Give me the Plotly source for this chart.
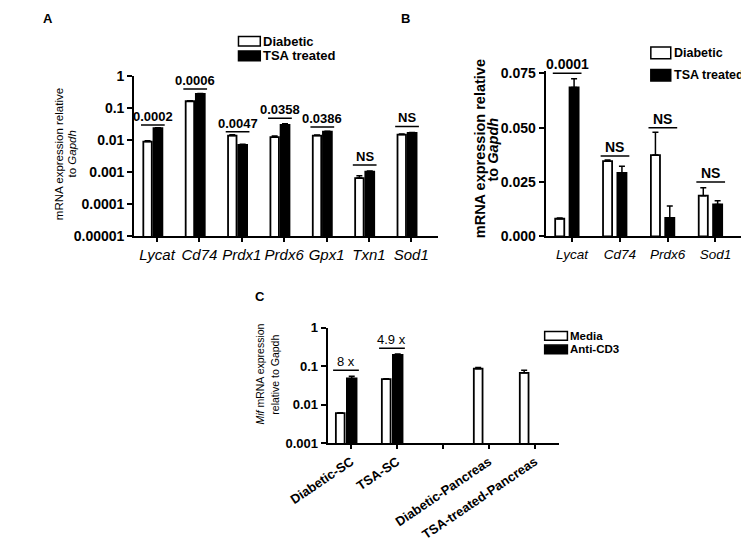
import numpy as np
import plotly.graph_objects as go

# ---------------- data ----------------
genes_a = ["Lycat", "Cd74", "Prdx1", "Prdx6", "Gpx1", "Txn1", "Sod1"]
diab_a = [0.0091, 0.165, 0.014, 0.0125, 0.014, 0.00066, 0.015]
diab_a_err = [0.0006, 0.006, 0.0008, 0.0012, 0.0006, 0.00012, 0.0006]
tsa_a = [0.024, 0.28, 0.0072, 0.030, 0.0186, 0.00105, 0.017]
tsa_a_err = [0.0008, 0.01, 0.0003, 0.003, 0.0006, 0.00004, 0.0006]
sig_a_text = ["0.0002", "0.0006", "0.0047", "0.0358", "0.0386", "NS", "NS"]
sig_a_y = [0.030, 0.40, 0.0186, 0.049, 0.026, 0.0017, 0.027]

genes_b = ["Lycat", "Cd74", "Prdx6", "Sod1"]
diab_b = [0.0081, 0.0346, 0.0374, 0.0187]
diab_b_err = [0.0003, 0.0005, 0.0105, 0.0037]
tsa_b = [0.0685, 0.0292, 0.0085, 0.0147]
tsa_b_err = [0.0040, 0.0031, 0.0055, 0.0017]
sig_b_text = ["0.0001", "NS", "NS", "NS"]
sig_b_y = [0.075, 0.037, 0.050, 0.025]

groups_c = ["Diabetic-SC", "TSA-SC", "", "Diabetic-Pancreas", "TSA-treated-Pancreas"]
media_c = [0.0060, 0.046, None, 0.086, 0.067]
media_c_err = [0.0002, 0.001, None, 0.006, 0.011]
anti_c = [0.048, 0.196, None, None, None]
anti_c_err = [0.007, 0.010, None, None, None]
sig_c_text = ["8 x", "4.9 x"]
sig_c_y = [0.078, 0.29]

ticks_a = [1e-5, 1e-4, 1e-3, 1e-2, 1e-1, 1]
ticks_a_text = ["0.00001", "0.0001", "0.001", "0.01", "0.1", "1"]
ticks_b = [0, 0.025, 0.05, 0.075]
ticks_b_text = ["0.000", "0.025", "0.050", "0.075"]
ticks_c = [1e-3, 1e-2, 1e-1, 1]
ticks_c_text = ["0.001", "0.01", "0.1", "1"]

# ---------------- helpers ----------------
W, H = 749, 549
PAGE = 8  # default body margin of the html page
FONT = "Liberation Sans, Arial, sans-serif"


def px(x):
    return (x - PAGE) / W


def py(y):
    return 1 - (y - PAGE) / H


fig = go.Figure()


def add_bars(xa, ya, xs, vals, errs, fill, offset, width):
    fig.add_trace(go.Bar(
        x=xs, y=vals, xaxis=xa, yaxis=ya, offset=offset, width=width,
        marker=dict(color=fill, line=dict(color="black", width=1.8)),
        error_y=dict(type="data", symmetric=False, array=errs,
                     arrayminus=[0] * len(vals), color="black",
                     thickness=1.5, width=3),
        showlegend=False, hoverinfo="skip"))


xa_idx = list(range(len(genes_a)))
xb_idx = list(range(len(genes_b)))
xc_idx = list(range(len(groups_c)))

add_bars("x", "y", xa_idx, diab_a, diab_a_err, "white", -0.225, 0.2)
add_bars("x", "y", xa_idx, tsa_a, tsa_a_err, "black", 0.015, 0.21)
add_bars("x2", "y2", xb_idx, diab_b, diab_b_err, "white", -0.25, 0.19)
add_bars("x2", "y2", xb_idx, tsa_b, tsa_b_err, "black", 0.05, 0.19)
add_bars("x3", "y3", xc_idx, media_c, media_c_err, "white", -0.22, 0.19)
add_bars("x3", "y3", xc_idx, anti_c, anti_c_err, "black", 0.02, 0.21)

shapes = []
annos = []


def sig(xref, yref, i, h, text, half, log, size, bold=True):
    shapes.append(dict(type="line", xref=xref, yref=yref, x0=i - half, x1=i + half,
                       y0=h, y1=h, line=dict(color="black", width=1.5)))
    annos.append(dict(xref=xref, yref=yref, x=i, y=np.log10(h) if log else h,
                      text=f"<b>{text}</b>" if bold else text, showarrow=False,
                      yanchor="bottom", yshift=-1,
                      font=dict(family=FONT, size=size, color="black")))


for i, (t, h) in enumerate(zip(sig_a_text, sig_a_y)):
    sig("x", "y", i, h, t, 0.28, True, 13)
for i, (t, h) in enumerate(zip(sig_b_text, sig_b_y)):
    sig("x2", "y2", i, h, t, 0.3, False, 14)
for i, (t, h) in enumerate(zip(sig_c_text, sig_c_y)):
    sig("x3", "y3", i, h, t, 0.28, True, 13, bold=False)


def legend(x0, y0, w, h, gap, labels, size):
    for k, (lab, fill) in enumerate(zip(labels, ["white", "black"])):
        top = y0 + k * gap
        shapes.append(dict(type="rect", xref="paper", yref="paper",
                           x0=px(x0), x1=px(x0 + w), y0=py(top + h), y1=py(top),
                           fillcolor=fill, line=dict(color="black", width=1.5)))
        annos.append(dict(xref="paper", yref="paper", x=px(x0 + w + 1),
                          y=py(top + h / 2), text=f"<b>{lab}</b>", showarrow=False,
                          xanchor="left", yanchor="middle",
                          font=dict(family=FONT, size=size, color="black")))


legend(210, 29, 23, 10, 15, ["Diabetic", "TSA treated"], 13)
legend(645, 40, 21, 12, 23, ["Diabetic", "TSA treated"], 12.5)
legend(533, 333, 24, 9, 14, ["Media", "Anti-CD3"], 11.5)

# panel letters
for lab, x, y in [("A", 9, 11), ("B", 386, 11), ("C", 233, 297)]:
    annos.append(dict(xref="paper", yref="paper", x=px(x), y=py(y), text=f"<b>{lab}</b>",
                      showarrow=False, xanchor="center", yanchor="middle",
                      font=dict(family=FONT, size=13, color="black")))


def ytitle(x, y, text, size):
    annos.append(dict(xref="paper", yref="paper", x=px(x), y=py(y), text=text,
                      textangle=-90, showarrow=False, xanchor="center",
                      yanchor="middle",
                      font=dict(family=FONT, size=size, color="black")))


ytitle(21, 150, "mRNA expression relative", 11.5)
ytitle(34, 150, "to <i>Gapdh</i>", 11.5)
ytitle(465, 145, "<b>mRNA expression relative</b>", 14.5)
ytitle(479, 145, "<b>to <i>Gapdh</i></b>", 14.5)
ytitle(233, 377, "<i>Mif</i> mRNA expression", 10.5)
ytitle(249, 377, "relative to Gapdh", 10.5)

axis_common = dict(showline=True, linecolor="black", linewidth=2, ticks="outside",
                   tickcolor="black", tickwidth=1.8, showgrid=False, zeroline=False,
                   mirror=False)

fig.update_layout(
    width=W, height=H, autosize=False, margin=dict(l=0, r=0, t=0, b=0),
    paper_bgcolor="white", plot_bgcolor="white", barmode="overlay",
    font=dict(family=FONT, color="black"),
    shapes=shapes, annotations=annos, showlegend=False,
    xaxis=dict(domain=[px(100), px(420)], anchor="y", range=[-0.44, 6.72],
               tickmode="array", tickvals=[i + 0.1 for i in xa_idx],
               ticktext=[f"<i>{g}</i>" for g in genes_a], ticklen=4,
               tickfont=dict(size=15, family=FONT), **axis_common),
    yaxis=dict(domain=[py(235), py(70)], anchor="x", type="log", range=[-5, 0],
               tickmode="array", tickvals=ticks_a,
               ticktext=[f"<b>{t}</b>" for t in ticks_a_text], ticklen=5,
               tickfont=dict(size=14, family=FONT), **axis_common),
    xaxis2=dict(domain=[px(534), px(745)], anchor="y2", range=[-0.45, 3.73],
                tickmode="array", tickvals=[i + 0.1 for i in xb_idx],
                ticktext=[f"<i>{g}</i>" for g in genes_b], ticklen=4,
                tickfont=dict(size=13.5, family=FONT), **axis_common),
    yaxis2=dict(domain=[py(235), py(65)], anchor="x2", range=[0, 0.0759],
                tickmode="array", tickvals=ticks_b,
                ticktext=[f"<b>{t}</b>" for t in ticks_b_text], ticklen=5,
                tickfont=dict(size=14, family=FONT), **axis_common),
    xaxis3=dict(domain=[px(304), px(548)], anchor="y3", range=[-0.4, 4.63],
                tickmode="array", tickvals=[i + 0.11 for i in xc_idx],
                ticktext=[f"<b>{g}</b>" if g else "" for g in groups_c], ticklen=4,
                tickangle=-34, tickfont=dict(size=13, family=FONT), **axis_common),
    yaxis3=dict(domain=[py(448), py(329)], anchor="x3", type="log", range=[-3, 0],
                tickmode="array", tickvals=ticks_c,
                ticktext=[f"<b>{t}</b>" for t in ticks_c_text], ticklen=5,
                tickfont=dict(size=13, family=FONT), **axis_common),
)

fig.write_html("out.html")
